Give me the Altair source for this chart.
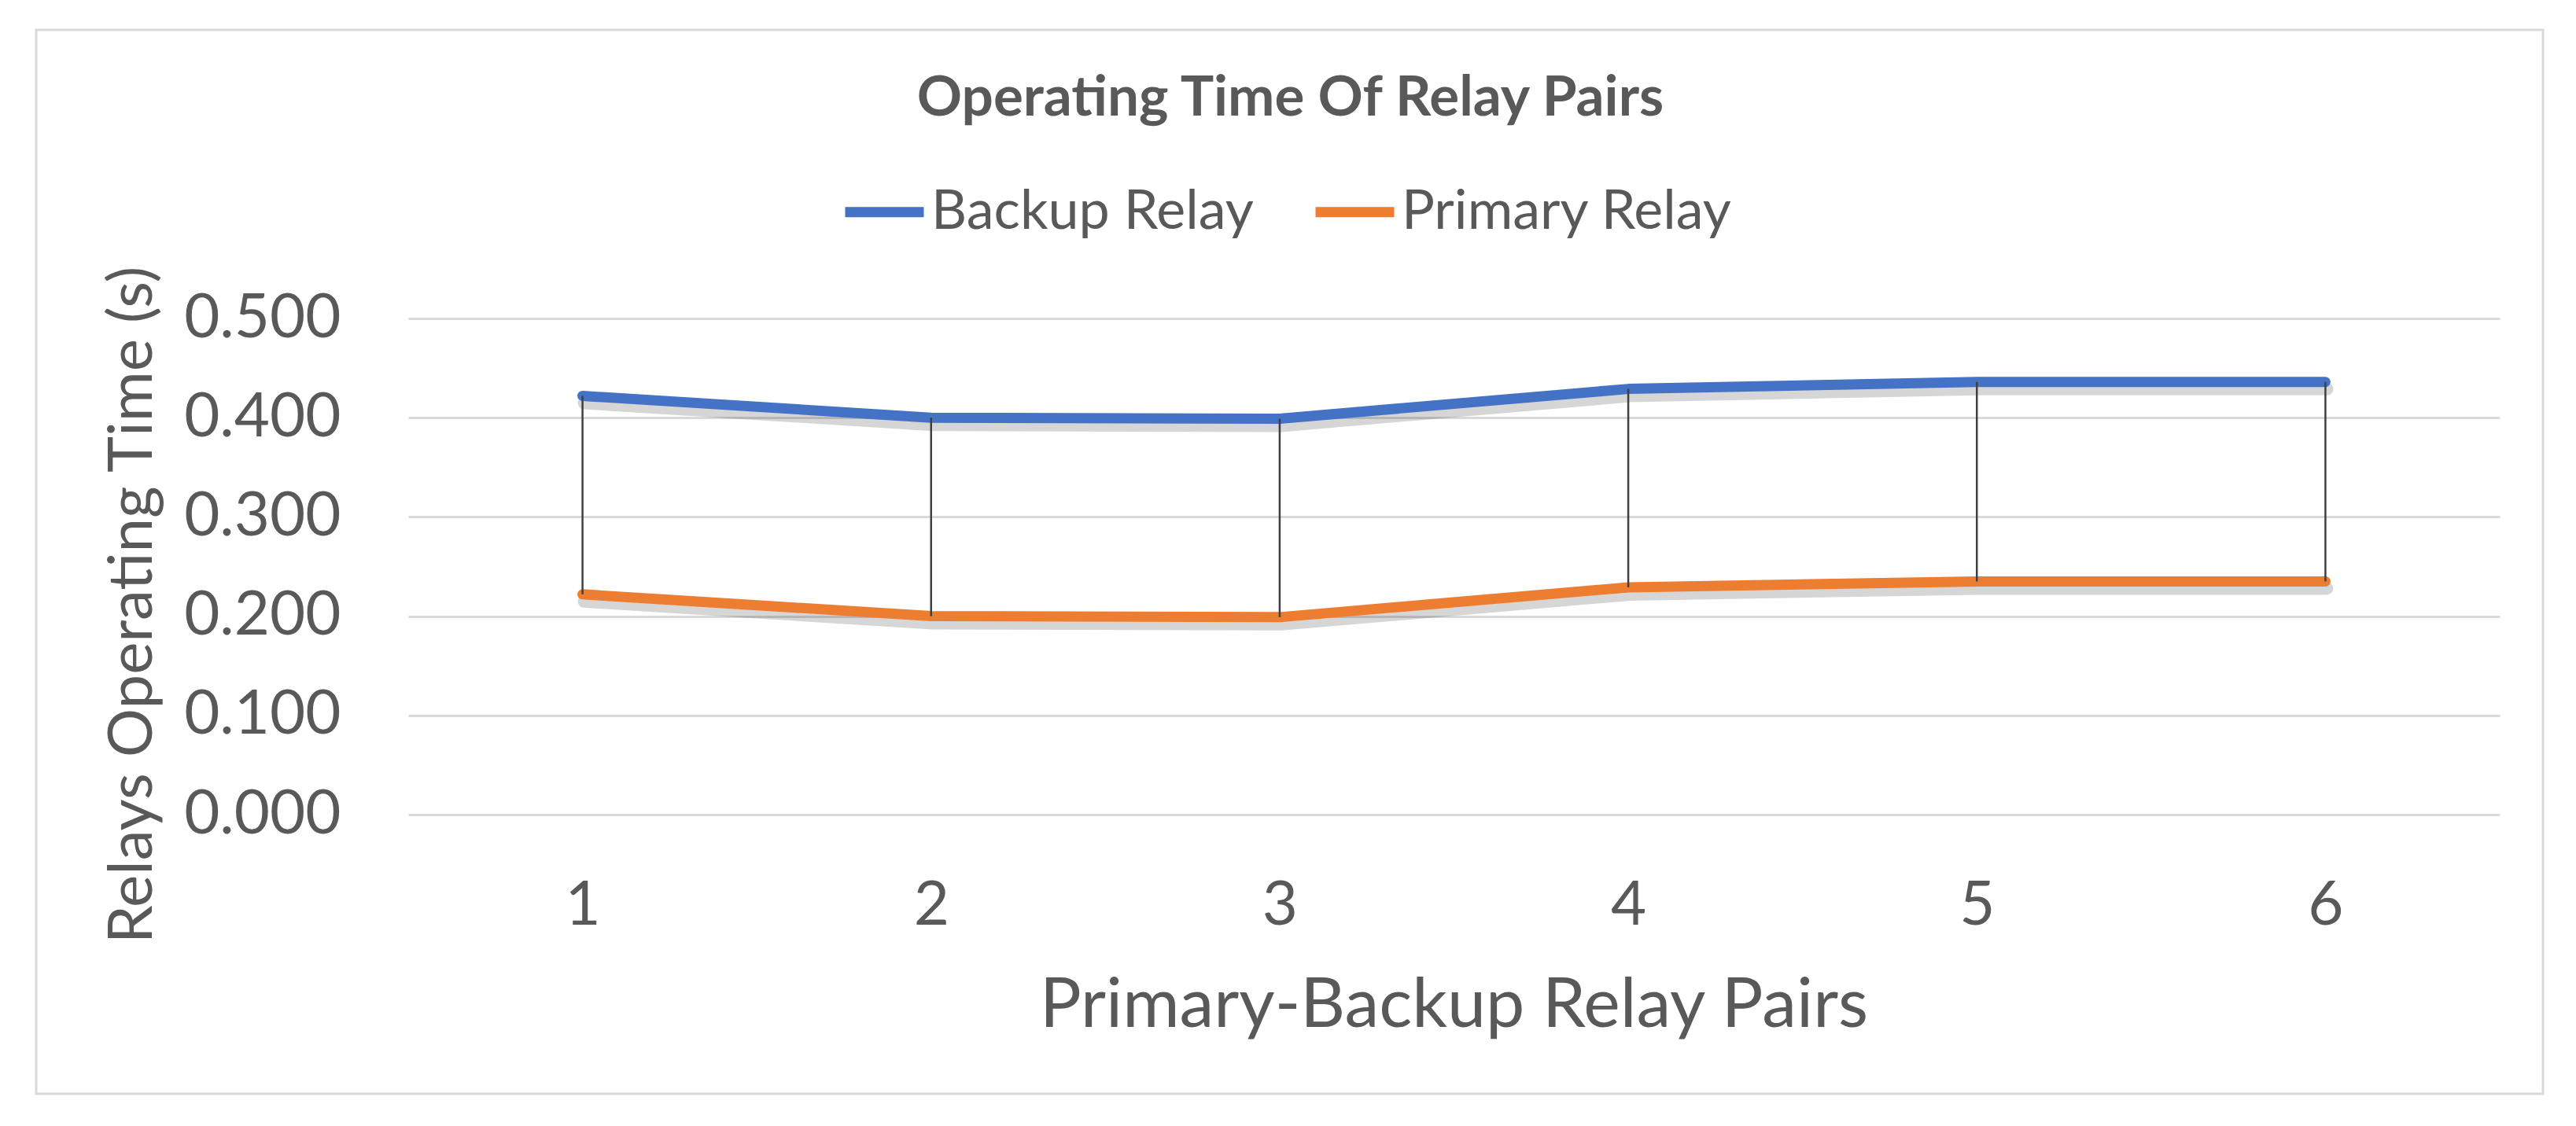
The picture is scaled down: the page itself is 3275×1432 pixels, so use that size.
import altair as alt
import pandas as pd

# ---- data ----
pairs = [1, 2, 3, 4, 5, 6]
backup = [0.422, 0.400, 0.399, 0.429, 0.436, 0.436]
primary = [0.222, 0.200, 0.199, 0.229, 0.235, 0.235]
series_names = ["Backup Relay", "Primary Relay"]
series_colors = ["#4472C4", "#ED7D31"]
y_ticks = [0.0, 0.1, 0.2, 0.3, 0.4, 0.5]
title_text = "Operating Time Of Relay Pairs"
x_title = "Primary-Backup Relay Pairs"
y_title = "Relays Operating Time (s)"

wide = pd.DataFrame({"Pair": pairs, "Backup Relay": backup, "Primary Relay": primary})
long = wide.melt(id_vars="Pair", value_vars=series_names, var_name="Series", value_name="Time")
frame_df = pd.DataFrame({"k": [0]})

FONT = "Lato"
TXT = "#595959"

x_enc = alt.X(
    "Pair:O",
    scale=alt.Scale(type="point", padding=0.5),
    axis=alt.Axis(
        title=x_title, labelAngle=0, grid=False, domain=False, ticks=False,
        labelPadding=77, labelFontSize=78, titleFontSize=88,
        labelFont=FONT, titleFont=FONT, labelColor=TXT, titleColor=TXT,
        titleFontWeight="normal", labelLimit=1000, titleLimit=3000,
        titleX=1329, titleY=269, titleAlign="center", titleBaseline="alphabetic",
    ),
)
y_axis = alt.Axis(
    values=y_ticks, format=".3f", title=y_title, grid=True,
    gridColor="#d9d9d9", gridWidth=3, domain=False, ticks=False,
    labelPadding=86, labelFontSize=78, titleFontSize=78,
    labelFont=FONT, titleFont=FONT, labelColor=TXT, titleColor=TXT,
    titleFontWeight="normal", labelLimit=1000, titleLimit=3000,
    titleAngle=270, titleX=-327, titleY=364, titleAlign="center",
    titleBaseline="alphabetic",
)
y_scale = alt.Scale(domain=[0, 0.5], nice=False, zero=True)

border = alt.Chart(frame_df).mark_rect(
    fill="transparent", stroke="#d9d9d9", strokeWidth=3
).encode(
    x=alt.value(-473), x2=alt.value(2714), y=alt.value(-367), y2=alt.value(986)
)

shadow = alt.Chart(long).mark_line(
    color="#000000", opacity=0.16, strokeWidth=16, yOffset=9, xOffset=2,
    strokeCap="round", strokeJoin="round"
).encode(
    x=x_enc,
    y=alt.Y("Time:Q", scale=y_scale, axis=y_axis),
    detail="Series:N",
)

lines = alt.Chart(long).mark_line(
    strokeWidth=13, strokeCap="round", strokeJoin="round"
).encode(
    x=x_enc,
    y=alt.Y("Time:Q", scale=y_scale, axis=y_axis),
    color=alt.Color(
        "Series:N",
        scale=alt.Scale(domain=series_names, range=series_colors),
        legend=alt.Legend(
            title=None, orient="none", legendX=549, legendY=-192,
            direction="horizontal", symbolType="stroke", symbolSize=10000,
            symbolStrokeWidth=13, labelFontSize=70, labelFont=FONT,
            labelColor=TXT, labelOffset=3, columnPadding=52, padding=0,
            labelLimit=1000,
        ),
    ),
)

rules = alt.Chart(wide).mark_rule(color="#404040", strokeWidth=2.5).encode(
    x=x_enc,
    y=alt.Y("Backup Relay:Q", scale=y_scale, axis=y_axis),
    y2="Primary Relay:Q",
)

chart = alt.layer(border, shadow, lines, rules).properties(
    width=2659,
    height=631,
    background="white",
    autosize=alt.AutoSizeParams(type="none"),
    padding={"left": 511, "top": 397, "right": 89, "bottom": 388},
    title=alt.TitleParams(
        text=title_text, anchor="middle", frame="group", dx=-208, offset=-181,
        font=FONT, fontSize=71, fontWeight="bold", color=TXT,
        baseline="alphabetic", limit=3000,
    ),
).configure_view(stroke=None)

chart.save("out.html", embed_options={"renderer": "svg", "actions": False})
